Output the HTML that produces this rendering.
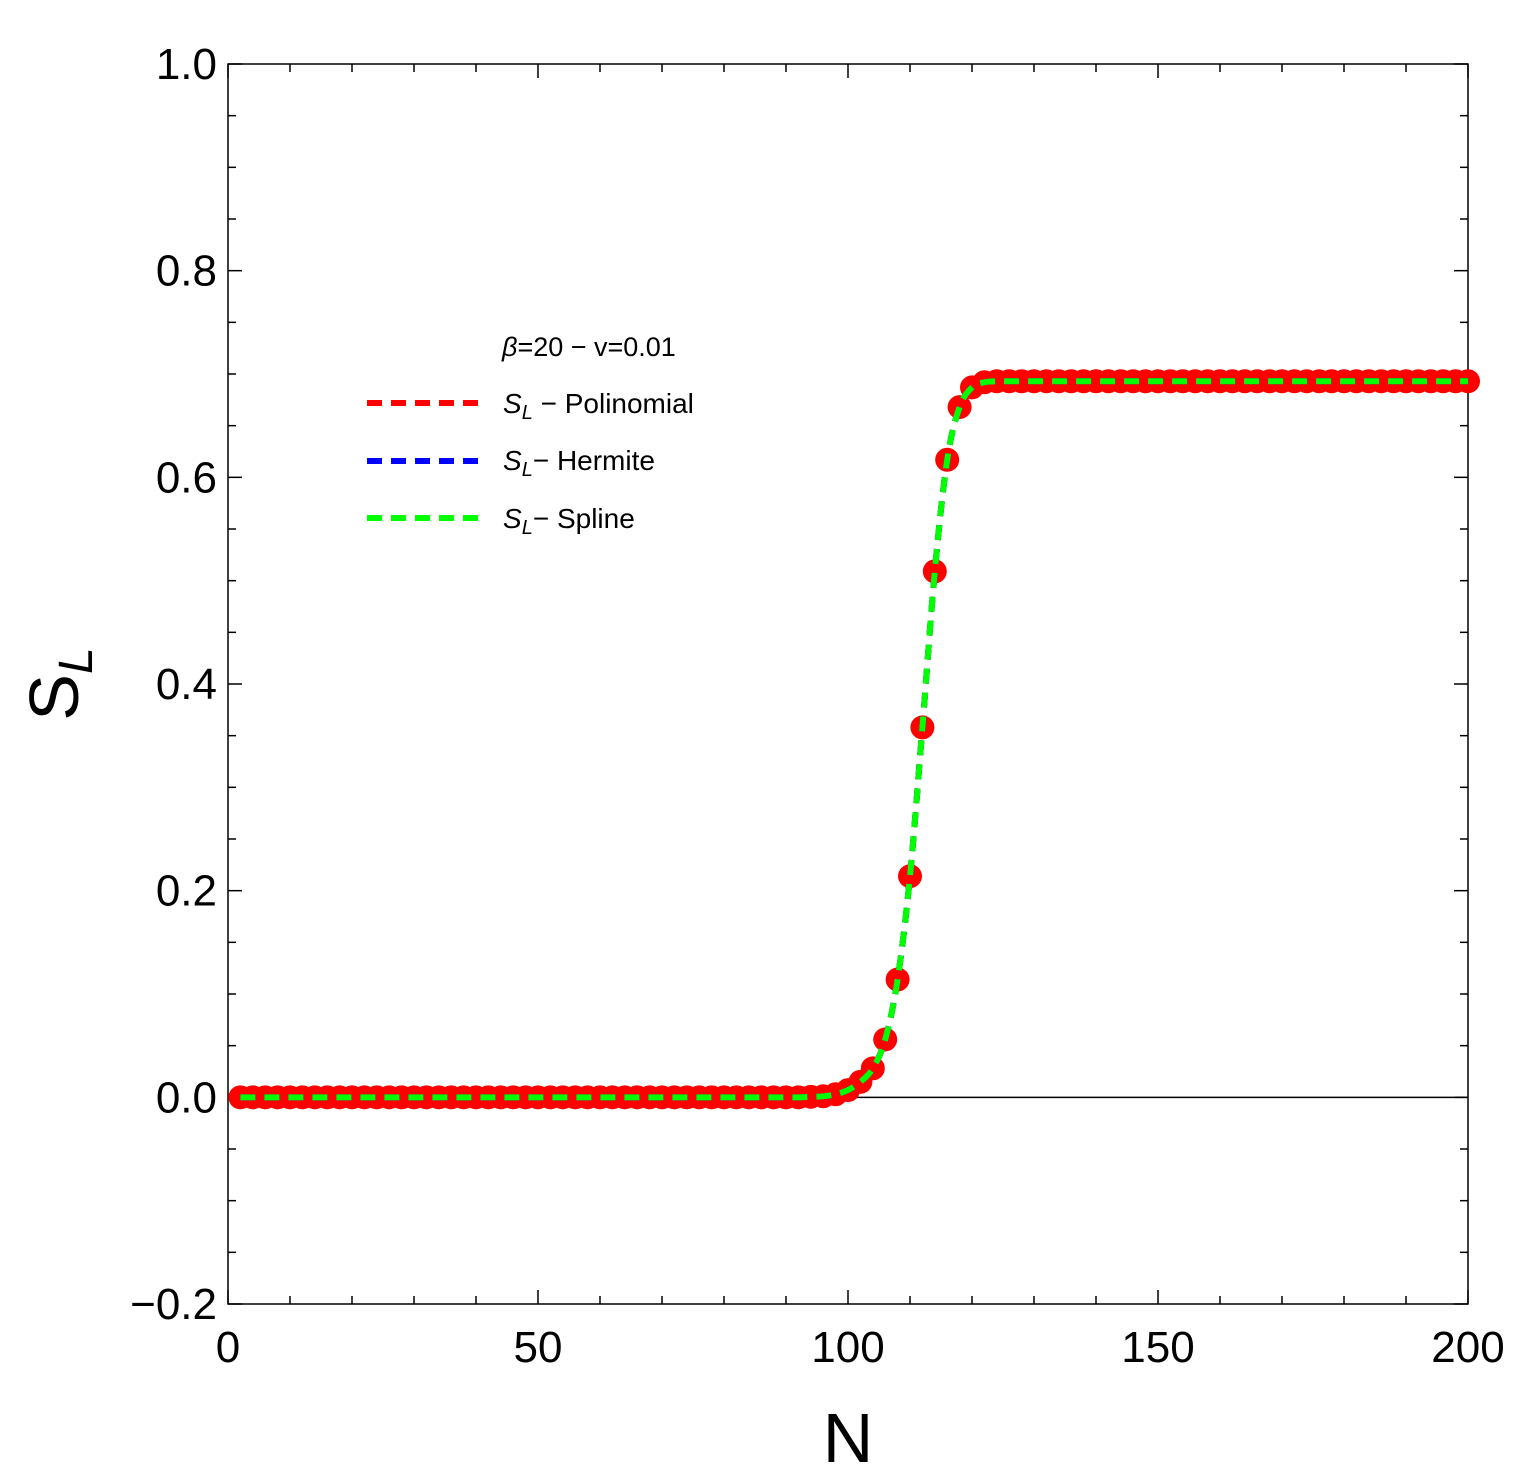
<!DOCTYPE html>
<html><head><meta charset="utf-8"><style>
body{margin:0;background:#fff}
svg{display:block;font-family:"Liberation Sans",sans-serif}
</style></head><body>
<svg id="chart" width="1525" height="1479">
<rect x="228" y="64" width="1240" height="1240" fill="none" stroke="#000" stroke-width="1.5"/>
<g id="ticks"></g>
<line id="zero-line" stroke="#000" stroke-width="1.5"/>
<g id="series"></g>
<text x="848" y="1462" font-size="70" text-anchor="middle">N</text>
<text transform="translate(78,684) rotate(-90)" font-size="70" text-anchor="middle">S<tspan font-size="48" font-style="italic" dy="14">L</tspan></text>
<g>
<text x="502" y="356" font-size="27"><tspan font-style="italic">β</tspan>=20 − v=0.01</text>
<line x1="367" y1="403" x2="480" y2="403" stroke="#f00" stroke-width="6" stroke-dasharray="15,9"/>
<text x="503" y="413" font-size="28"><tspan font-style="italic">S</tspan><tspan font-style="italic" font-size="20" dy="6">L</tspan><tspan dy="-6"> − Polinomial</tspan></text>
<line x1="367" y1="461" x2="480" y2="461" stroke="#00f" stroke-width="6" stroke-dasharray="15,9"/>
<text x="503" y="470" font-size="28"><tspan font-style="italic">S</tspan><tspan font-style="italic" font-size="20" dy="6">L</tspan><tspan dy="-6">− Hermite</tspan></text>
<line x1="367" y1="518" x2="480" y2="518" stroke="#0f0" stroke-width="6" stroke-dasharray="15,9"/>
<text x="503" y="528" font-size="28"><tspan font-style="italic">S</tspan><tspan font-style="italic" font-size="20" dy="6">L</tspan><tspan dy="-6">− Spline</tspan></text>
</g>
</svg>
<script>
const xTicks=[0,50,100,150,200];
const yTicks=[-0.2,0.0,0.2,0.4,0.6,0.8,1.0];
const yTickLabels=["−0.2","0.0","0.2","0.4","0.6","0.8","1.0"];
const transN=[94,96,98,100,102,104,106,108,110,112,114,116,118,120,122];
const transS=[0.0005,0.001,0.003,0.007,0.015,0.028,0.056,0.114,0.214,0.358,0.509,0.617,0.668,0.687,0.692];
const plateauLow=0.0;
const plateauHigh=0.693;
const X=v=>228+v/200*1240;
const Y=v=>1304-(v+0.2)/1.2*1240;
const NS="http://www.w3.org/2000/svg";
function mk(t,a,p){const e=document.createElementNS(NS,t);for(const k in a)e.setAttribute(k,a[k]);p.appendChild(e);return e;}
const tg=document.getElementById('ticks');
for(let v=0;v<=200;v+=10){const big=v%50===0,l=big?14:8;
 let e=mk('line',{x1:X(v),x2:X(v),y1:1304,y2:1304-l,stroke:'#000','stroke-width':1.5},tg);
 
 e=mk('line',{x1:X(v),x2:X(v),y1:64,y2:64+l,stroke:'#000','stroke-width':1.5},tg);
 }
for(let i=0;i<=24;i++){const v=-0.2+i*0.05,big=i%4===0,l=big?14:8;
 let e=mk('line',{x1:228,x2:228+l,y1:Y(v),y2:Y(v),stroke:'#000','stroke-width':1.5},tg);
 
 e=mk('line',{x1:1468,x2:1468-l,y1:Y(v),y2:Y(v),stroke:'#000','stroke-width':1.5},tg);
 }
xTicks.forEach(v=>{const t=mk('text',{x:X(v),y:1362,'font-size':44,'text-anchor':'middle'},tg);t.textContent=v;
 });
yTicks.forEach((v,i)=>{const t=mk('text',{x:217,y:Y(v)+15,'font-size':44,'text-anchor':'end'},tg);t.textContent=yTickLabels[i];
 });
const zl=document.getElementById('zero-line');zl.setAttribute('x1',X(0));zl.setAttribute('x2',X(200));zl.setAttribute('y1',Y(0));zl.setAttribute('y2',Y(0));
const Ns=[],Ss=[];
for(let n=2;n<=200;n+=2){Ns.push(n);const k=transN.indexOf(n);Ss.push(k>=0?transS[k]:(n<transN[0]?plateauLow:plateauHigh));}
const sg=document.getElementById('series');
Ns.forEach((n,i)=>{const c=mk('circle',{cx:X(n),cy:Y(Ss[i]),r:12,fill:'#f00'},sg);
 });
function pathFor(){const pts=Ns.map((n,i)=>[X(n),Y(Ss[i])]);
 let d='M'+pts[0][0]+','+pts[0][1];
 for(let i=0;i<pts.length-1;i++){const p0=pts[Math.max(0,i-1)],p1=pts[i],p2=pts[i+1],p3=pts[Math.min(pts.length-1,i+2)];
  const c1=[p1[0]+(p2[0]-p0[0])/6,p1[1]+(p2[1]-p0[1])/6],c2=[p2[0]-(p3[0]-p1[0])/6,p2[1]-(p3[1]-p1[1])/6];
  d+=` C${c1[0]},${c1[1]} ${c2[0]},${c2[1]} ${p2[0]},${p2[1]}`;}
 return d;}
const d=pathFor();
let p=mk('path',{d:d,fill:'none',stroke:'#f00','stroke-width':6,'stroke-dasharray':'15,9'},sg);

p=mk('path',{d:d,fill:'none',stroke:'#00f','stroke-width':6,'stroke-dasharray':'15,9'},sg);

p=mk('path',{d:d,fill:'none',stroke:'#0f0','stroke-width':6,'stroke-dasharray':'15,9'},sg);

</script>
</body></html>
